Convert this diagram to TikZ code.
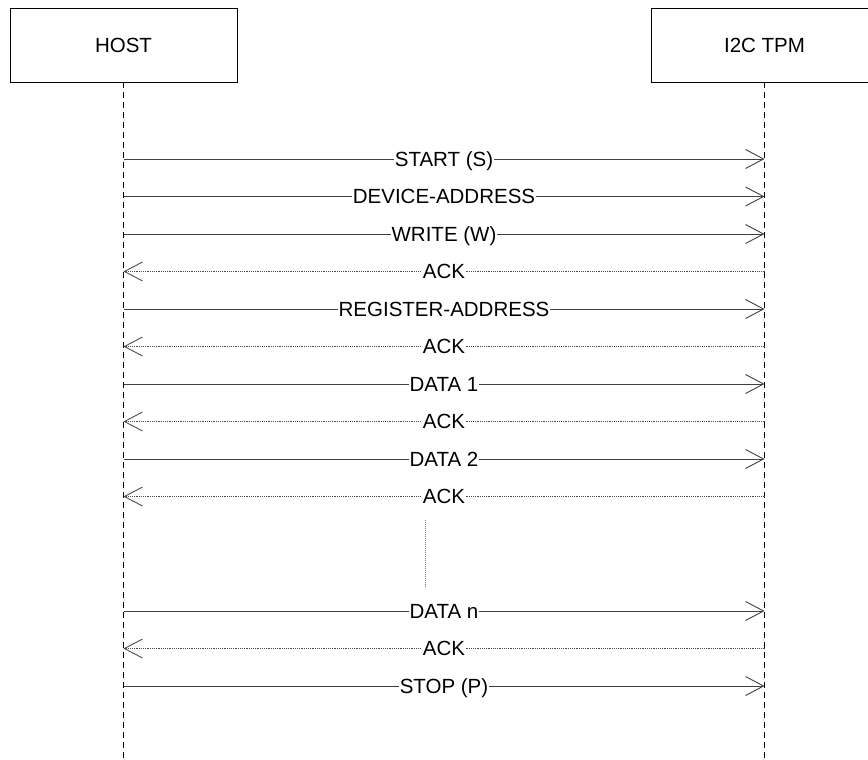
\documentclass[tikz,border=0pt]{standalone}
\usepackage{fontspec}
\setmainfont{Liberation Sans}
\usetikzlibrary{arrows.meta}
\begin{document}
\begin{tikzpicture}[x=1pt,y=-1pt,
  actor/.style={draw,line width=0.8pt,minimum width=227pt,minimum height=74pt,inner sep=0pt,font=\fontsize{20.5}{24}\selectfont},
  lifeline/.style={line width=0.8pt,dash pattern=on 6pt off 4pt},
  tip/.style={-{Straight Barb[length=18pt,width=19pt,line width=0.9pt]}},
  msg/.style={tip,line width=1pt,draw=black!75},
  reply/.style={tip,line width=1pt,draw=black!70,dash pattern=on 1.2pt off 1pt},
  lbl/.style={fill=white,inner xsep=1pt,inner ysep=1pt,text height=14.7pt,text depth=0pt,font=\fontsize{20.5}{24}\selectfont,text=black},
  gap/.style={line width=1pt,draw=black!55,dash pattern=on 1pt off 1pt}]
\useasboundingbox (0,0) rectangle (868,760);
\clip (0,0) rectangle (868,760);
\node[actor] (host) at (123.5,45) {HOST};
\node[actor] (tpm) at (764.5,45) {I2C TPM};
\coordinate (hend) at (123.5,760);
\coordinate (tend) at (764.5,760);
\draw[lifeline] (host.south) -- (hend);
\draw[lifeline] (tpm.south) -- (tend);
\foreach \i/\y in {1/159,2/196.5,3/234,4/271.5,5/309,6/346.5,7/384,8/421.5,9/459,10/496.5,11/611,12/648.5,13/686}{
  \coordinate (h\i) at (123.5,\y);
  \coordinate (t\i) at (764.5,\y);
}
\draw[msg] (h1) -- node[lbl]{START (S)} (t1);
\draw[msg] (h2) -- node[lbl]{DEVICE-ADDRESS} (t2);
\draw[msg] (h3) -- node[lbl]{WRITE (W)} (t3);
\draw[reply] (t4) -- node[lbl]{ACK} (h4);
\draw[msg] (h5) -- node[lbl]{REGISTER-ADDRESS} (t5);
\draw[reply] (t6) -- node[lbl]{ACK} (h6);
\draw[msg] (h7) -- node[lbl]{DATA 1} (t7);
\draw[reply] (t8) -- node[lbl]{ACK} (h8);
\draw[msg] (h9) -- node[lbl]{DATA 2} (t9);
\draw[reply] (t10) -- node[lbl]{ACK} (h10);
\coordinate (g1) at (425,520);
\coordinate (g2) at (425,588);
\draw[gap] (g1) -- (g2);
\draw[msg] (h11) -- node[lbl]{DATA n} (t11);
\draw[reply] (t12) -- node[lbl]{ACK} (h12);
\draw[msg] (h13) -- node[lbl]{STOP (P)} (t13);
\end{tikzpicture}
\end{document}
